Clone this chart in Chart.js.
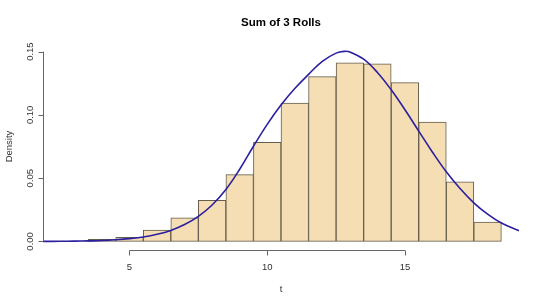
<!DOCTYPE html>
<html>
<head>
<meta charset="utf-8">
<script src="https://cdn.jsdelivr.net/npm/chart.js@4/dist/chart.umd.min.js"></script>
<style>
  body { margin: 0; background: #fff; }
</style>
</head>
<body>
<canvas id="chart" width="540" height="305"></canvas>
<script>
// Histogram of sums (unit-width bins centred on each sum)
const sums = [3, 4, 5, 6, 7, 8, 9, 10, 11, 12, 13, 14, 15, 16, 17, 18];
const densities = [0.0002, 0.0016, 0.0032, 0.0089, 0.0187, 0.0325, 0.0528, 0.0783,
                   0.1094, 0.1302, 0.1412, 0.1404, 0.1255, 0.0942, 0.0470, 0.0153];

// Density curve
const curveT = [1.86, 2.5, 3.0, 3.5, 4.0, 4.5, 5.0, 5.5, 6.0, 6.5, 7.0, 7.5, 8.0, 8.5, 9.0, 9.5,
                10.0, 10.5, 11.0, 11.5, 12.0, 12.5, 12.8, 13.0, 13.5, 14.0, 14.5, 15.0, 15.5,
                16.0, 16.5, 17.0, 17.5, 18.0, 18.5, 19.14];
const curveD = [0.0000, 0.0001, 0.0002, 0.0004, 0.0007, 0.0013, 0.0022, 0.0035, 0.0056, 0.0087,
                0.0133, 0.0198, 0.0288, 0.0410, 0.0570, 0.0752, 0.0925, 0.1078, 0.1208, 0.1320,
                0.1423, 0.1488, 0.1502, 0.1497, 0.1440, 0.1335, 0.1198, 0.1040, 0.0872, 0.0705,
                0.0550, 0.0418, 0.0305, 0.0215, 0.0145, 0.0085];

const xTicks = [5, 10, 15];
const yTicks = [0, 0.05, 0.10, 0.15];

const FONT = '"Liberation Sans", Arial, sans-serif';

// R-style axes, labels and title
const rAxes = {
  id: 'rAxes',
  afterDraw(chart) {
    const { ctx, chartArea } = chart;
    const xs = chart.scales.x, ys = chart.scales.y;
    const axisY = Math.round(chartArea.bottom) + 1.5;
    const axisX = Math.round(chartArea.left) + 0.5;
    ctx.save();
    ctx.strokeStyle = '#666';
    ctx.lineWidth = 1;

    // x axis
    ctx.beginPath();
    ctx.moveTo(xs.getPixelForValue(xTicks[0]), axisY);
    ctx.lineTo(xs.getPixelForValue(xTicks[xTicks.length - 1]), axisY);
    xTicks.forEach(v => {
      const px = Math.round(xs.getPixelForValue(v)) + 0.5;
      ctx.moveTo(px, axisY);
      ctx.lineTo(px, axisY + 5);
    });
    ctx.stroke();

    // y axis
    ctx.beginPath();
    ctx.moveTo(axisX, ys.getPixelForValue(yTicks[0]));
    ctx.lineTo(axisX, ys.getPixelForValue(yTicks[yTicks.length - 1]));
    yTicks.forEach(v => {
      const py = Math.round(ys.getPixelForValue(v)) + 0.5;
      ctx.moveTo(axisX, py);
      ctx.lineTo(axisX - 5, py);
    });
    ctx.stroke();

    ctx.fillStyle = '#333';
    ctx.font = '9.5px ' + FONT;
    ctx.textAlign = 'center';
    ctx.textBaseline = 'middle';
    xTicks.forEach(v => ctx.fillText(String(v), xs.getPixelForValue(v), 267));
    yTicks.forEach(v => {
      ctx.save();
      ctx.translate(30, ys.getPixelForValue(v));
      ctx.rotate(-Math.PI / 2);
      ctx.fillText(v.toFixed(2), 0, 0);
      ctx.restore();
    });

    // axis titles
    ctx.fillText('t', (chartArea.left + chartArea.right) / 2, 289);
    ctx.save();
    ctx.translate(9, (chartArea.top + chartArea.bottom) / 2);
    ctx.rotate(-Math.PI / 2);
    ctx.fillText('Density', 0, 0);
    ctx.restore();

    // main title
    ctx.fillStyle = '#000';
    ctx.font = 'bold 11.5px ' + FONT;
    ctx.fillText('Sum of 3 Rolls', (chartArea.left + chartArea.right) / 2, 23);
    ctx.restore();
  }
};

new Chart(document.getElementById('chart'), {
  type: 'bar',
  data: {
    datasets: [
      {
        type: 'line',
        label: 'density',
        data: curveT.map((t, i) => ({ x: t, y: curveD[i] })),
        borderColor: '#2b1fa0',
        borderWidth: 1.6,
        pointRadius: 0,
        tension: 0.4,
        fill: false,
        order: 0
      },
      {
        type: 'bar',
        label: 'hist',
        data: sums.map((s, i) => ({ x: s, y: densities[i] })),
        backgroundColor: '#f5deb3',
        borderColor: '#655d4d',
        borderWidth: 1,
        borderSkipped: false,
        barPercentage: 1,
        categoryPercentage: 1,
        order: 1
      }
    ]
  },
  options: {
    responsive: false,
    animation: false,
    layout: { padding: { left: 43, right: 21, top: 44, bottom: 56 } },
    plugins: { legend: { display: false }, tooltip: { enabled: false }, title: { display: false } },
    scales: {
      x: { type: 'linear', min: 1.86, max: 19.14, display: false, offset: false },
      y: { type: 'linear', min: -0.006, max: 0.156, display: false }
    }
  },
  plugins: [rAxes]
});
</script>
</body>
</html>
